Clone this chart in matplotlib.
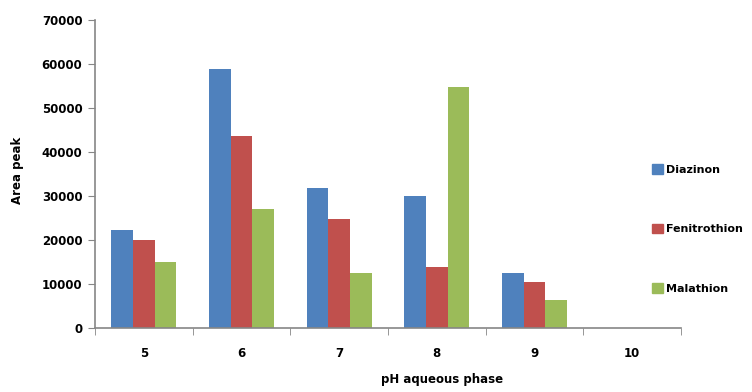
import numpy as np
import matplotlib.pyplot as plt
from matplotlib.patches import Patch

ph = ["5", "6", "7", "8", "9", "10"]
diazinon = [22300, 58800, 31800, 30100, 12400, 0]
fenitrothion = [20000, 43700, 24700, 13800, 10500, 0]
malathion = [15100, 27000, 12400, 54700, 6400, 0]

names = ["Diazinon", "Fenitrothion", "Malathion"]
colors = ["#4F81BD", "#C0504D", "#9BBB59"]
series = [diazinon, fenitrothion, malathion]

plt.rcParams["font.family"] = "DejaVu Sans"
plt.rcParams["font.weight"] = "bold"

fig = plt.figure(figsize=(7.52, 3.92), dpi=100)
ax = fig.add_axes([95 / 752, 1 - 328 / 392, (681 - 95) / 752, (328 - 20) / 392])

x = np.arange(len(ph))
w = 0.222
for i, (vals, c) in enumerate(zip(series, colors)):
    ax.bar(x + (i - 1) * w, vals, width=w, color=c, label=names[i])

ax.set_xlim(-0.5, len(ph) - 0.5)
ax.set_ylim(0, 70000)
ax.set_yticks(np.arange(0, 70001, 10000))
ax.set_xticks(x)
ax.set_xticklabels(ph)
ax.set_xticks(np.arange(-0.5, len(ph), 1), minor=True)

for s in ["top", "right"]:
    ax.spines[s].set_visible(False)
for s in ["left", "bottom"]:
    ax.spines[s].set_color("#868686")
    ax.spines[s].set_linewidth(1.2)

ax.tick_params(axis="y", length=5, color="#868686", labelsize=8.5, pad=4)
ax.tick_params(axis="x", which="major", length=0, labelsize=8.5, pad=14)
ax.tick_params(axis="x", which="minor", length=5, color="#868686")

fig.text(18 / 752, 1 - 170 / 392, "Area peak", rotation=90, ha="center", va="center",
         fontsize=8.5, fontweight="bold")
fig.text(442 / 752, 1 - 379 / 392, "pH aqueous phase", ha="center", va="center",
         fontsize=8.5, fontweight="bold")

handles = [Patch(color=c) for c in colors]
fig.legend(handles, names, loc="center left", bbox_to_anchor=(642 / 752, 1 - 229 / 392),
           frameon=False, fontsize=8, handlelength=0.95, handleheight=0.95,
           handletextpad=0.3, labelspacing=4.4)

fig.savefig("out.png", dpi=100)
